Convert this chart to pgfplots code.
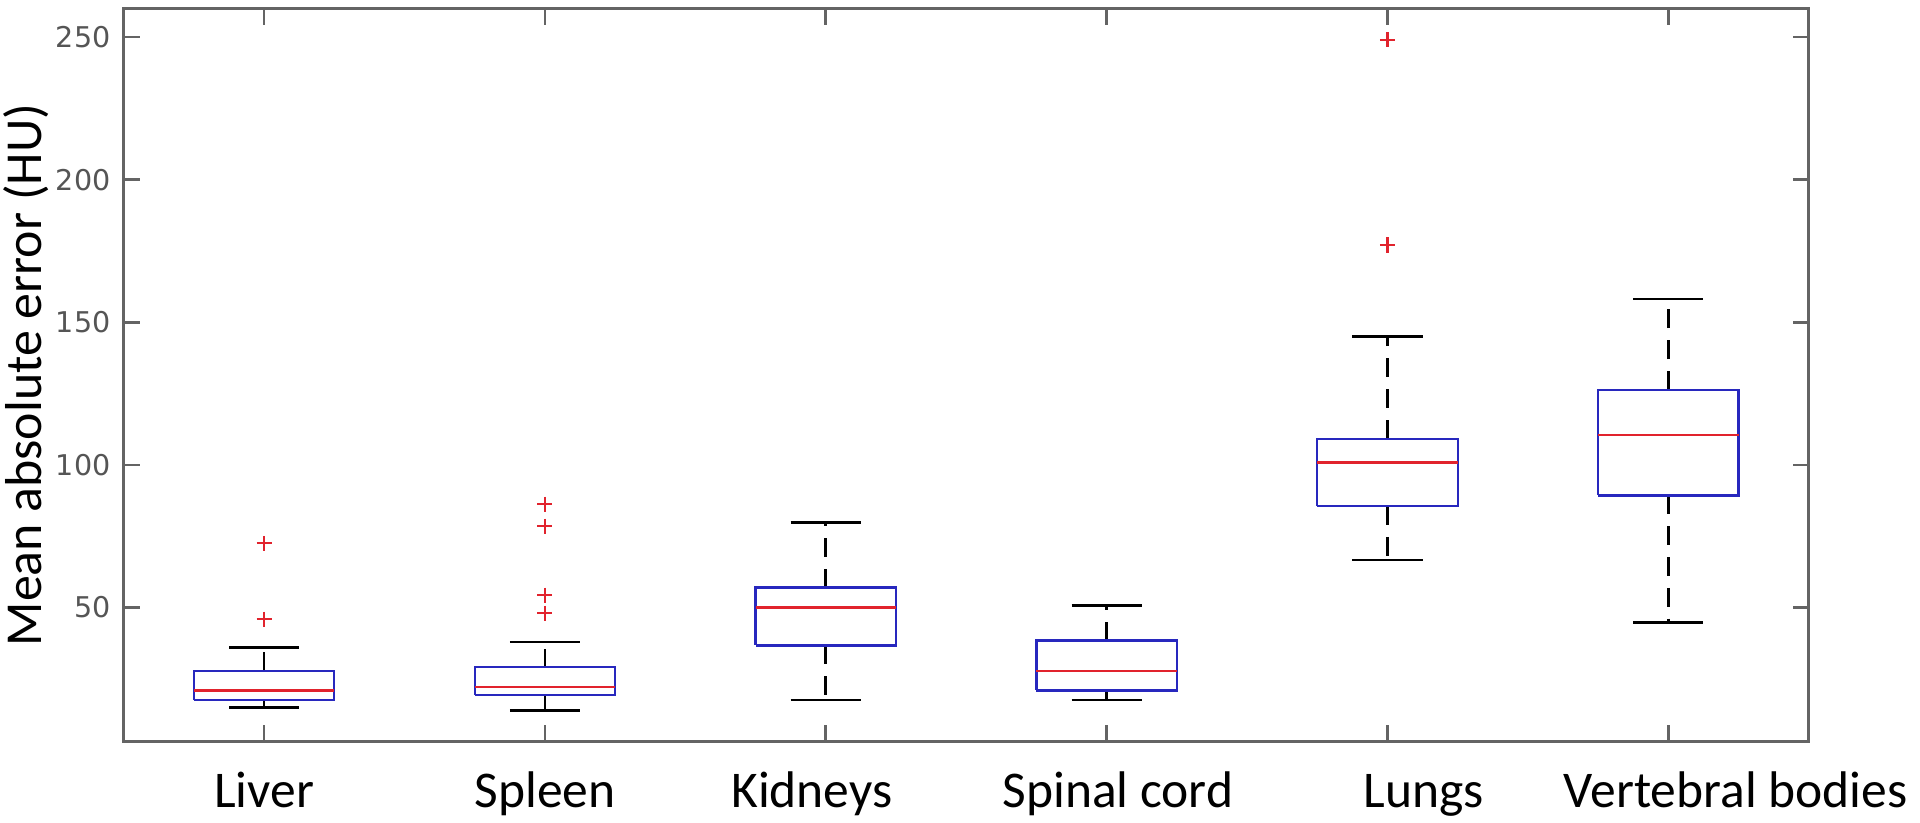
\documentclass[border=0pt]{standalone}
\usepackage{fontspec}
\usepackage{pgfplots}
\pgfplotsset{compat=1.18}
\setmainfont{Carlito}
\newfontfamily\numfont{DejaVu Sans}
\definecolor{mblue}{RGB}{40,40,190}
\definecolor{mred}{RGB}{225,35,45}
\definecolor{axgray}{RGB}{100,100,100}
\definecolor{numgray}{RGB}{85,85,85}

\begin{document}
\begin{tikzpicture}
\begin{axis}[
  scale only axis,
  width=15.75cm, height=6.85cm,
  xmin=0.5, xmax=6.5, ymin=3, ymax=260,
  xtick={1,2,3,4,5,6},
  xticklabels={,,,,,},
  % the category names sit a little right of their ticks in the reference
  extra x ticks={1,2,2.95,4.04,5.13,6.24},
  extra x tick labels={Liver,Spleen,Kidneys,Spinal cord,Lungs,Vertebral bodies},
  extra x tick style={major tick length=0pt},
  ytick={50,100,150,200,250},
  tick align=inside, tick pos=both,
  xticklabel pos=lower, yticklabel pos=left,
  major tick length=0.15cm,
  axis line style={axgray, line width=0.7pt},
  tick style={axgray, line width=0.7pt},
  /pgf/number format/assume math mode=true,
  yticklabel style={font=\numfont\fontsize{7.6}{9}\selectfont, text=numgray},
  xticklabel style={font=\fontsize{13.7}{16}\selectfont, text=black,
    anchor=base, yshift=-0.62cm, inner ysep=0.05cm},
  ylabel={Mean absolute error (HU)},
  ylabel style={font=\fontsize{13.8}{16}\selectfont,
    at={(axis description cs:-0.0578,0.5)}, anchor=center,
    inner ysep=1pt, inner xsep=0.97cm},
  unbounded coords=jump,
]
  % whisker stems (q3 -> upper whisker, q1 -> lower whisker)
  \addplot[black, line width=0.7pt, dash pattern=on 5pt off 3.2pt] coordinates {
    (1,27.7)(1,36.0) (nan,nan) (1,17.5)(1,15.0) (nan,nan)
    (2,29.0)(2,37.9) (nan,nan) (2,19.3)(2,13.9) (nan,nan)
    (3,57.0)(3,79.8) (nan,nan) (3,36.7)(3,17.5) (nan,nan)
    (4,38.4)(4,50.6) (nan,nan) (4,20.9)(4,17.5) (nan,nan)
    (5,109.2)(5,145.0) (nan,nan) (5,85.6)(5,66.7) (nan,nan)
    (6,126.3)(6,158.2) (nan,nan) (6,89.3)(6,44.8)
  };
  % whisker caps
  \addplot[black, line width=0.7pt] coordinates {
    (0.875,36.0)(1.125,36.0) (nan,nan) (0.875,15.0)(1.125,15.0) (nan,nan)
    (1.875,37.9)(2.125,37.9) (nan,nan) (1.875,13.9)(2.125,13.9) (nan,nan)
    (2.875,79.8)(3.125,79.8) (nan,nan) (2.875,17.5)(3.125,17.5) (nan,nan)
    (3.875,50.6)(4.125,50.6) (nan,nan) (3.875,17.5)(4.125,17.5) (nan,nan)
    (4.875,145.0)(5.125,145.0) (nan,nan) (4.875,66.7)(5.125,66.7) (nan,nan)
    (5.875,158.2)(6.125,158.2) (nan,nan) (5.875,44.8)(6.125,44.8)
  };
  % boxes (q1 to q3)
  \addplot[mblue, line width=0.6pt] coordinates {
    (0.75,17.5)(1.25,17.5)(1.25,27.7)(0.75,27.7)(0.75,17.5) (nan,nan)
    (1.75,19.3)(2.25,19.3)(2.25,29.0)(1.75,29.0)(1.75,19.3) (nan,nan)
    (2.75,36.7)(3.25,36.7)(3.25,57.0)(2.75,57.0)(2.75,36.7) (nan,nan)
    (3.75,20.9)(4.25,20.9)(4.25,38.4)(3.75,38.4)(3.75,20.9) (nan,nan)
    (4.75,85.6)(5.25,85.6)(5.25,109.2)(4.75,109.2)(4.75,85.6) (nan,nan)
    (5.75,89.3)(6.25,89.3)(6.25,126.3)(5.75,126.3)(5.75,89.3)
  };
  % medians
  \addplot[mred, line width=0.6pt] coordinates {
    (0.75,20.9)(1.25,20.9) (nan,nan)
    (1.75,22.0)(2.25,22.0) (nan,nan)
    (2.75,50.0)(3.25,50.0) (nan,nan)
    (3.75,27.7)(4.25,27.7) (nan,nan)
    (4.75,100.8)(5.25,100.8) (nan,nan)
    (5.75,110.5)(6.25,110.5)
  };
  % outliers
  \addplot[only marks, mark=+, mark size=2pt, mark options={mred, line width=0.6pt}] coordinates {
    (1,72.5)(1,45.9)
    (2,86.2)(2,78.5)(2,54.3)(2,48.0)
    (5,249.1)(5,177.1)
  };
\end{axis}
\end{tikzpicture}
\end{document}
